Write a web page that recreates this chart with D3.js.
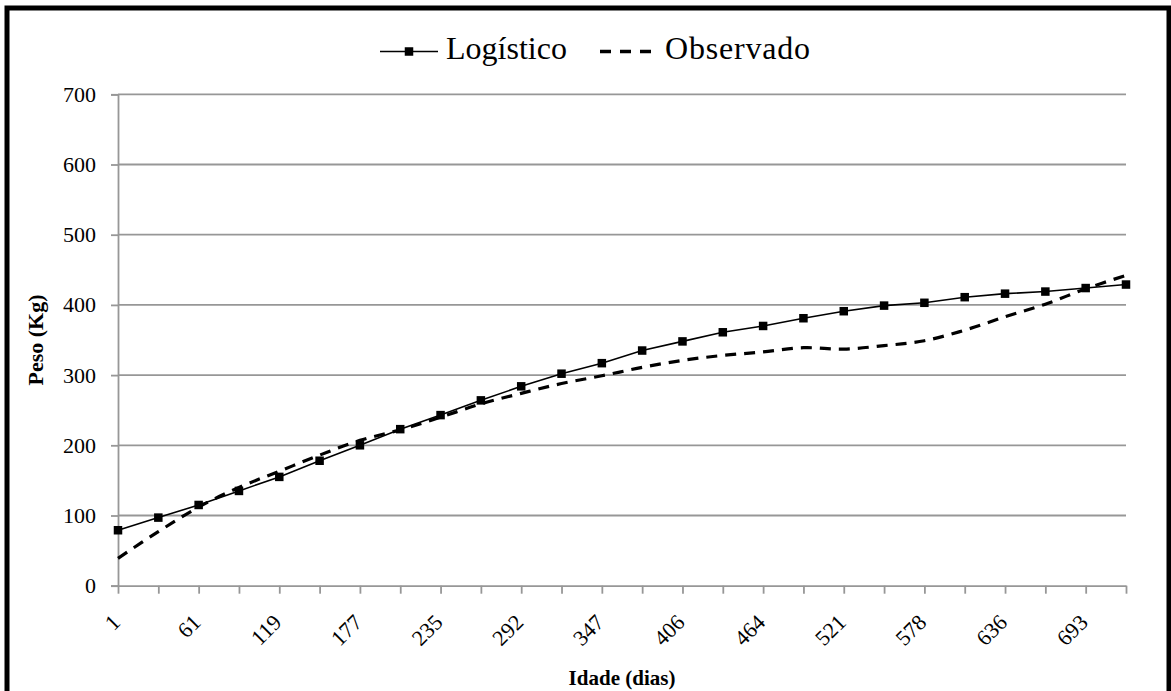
<!DOCTYPE html>
<html>
<head>
<meta charset="utf-8" />
<script src="https://cdn.jsdelivr.net/npm/d3@7/dist/d3.min.js"></script>
<style>
    body { margin: 0; background: #fff; }
    svg text { font-family: "Liberation Serif", "Times New Roman", serif; fill: #000; }
</style>
</head>
<body>
<div id="chart"></div>
<script>
    // idade (dias) - so uma em cada duas aparece no eixo
    const idade = [1, 31, 61, 90, 119, 148, 177, 206, 235, 263, 292, 320, 347,
                   377, 406, 435, 464, 492, 521, 550, 578, 607, 636, 665, 693, 722];
    const logistico = [79, 97, 115, 135, 155, 178, 200, 223, 243, 264, 284, 302, 317,
                       335, 348, 361, 370, 381, 391, 399, 403, 411, 416, 419, 424, 429];
    const observado = [39, 77, 112, 140, 163, 186, 207, 222, 240, 259, 274, 288, 299,
                       311, 321, 328, 333, 339, 337, 342, 349, 364, 383, 401, 423, 442];
    const yTicks = [0, 100, 200, 300, 400, 500, 600, 700];

    const width = 1171, height = 691;
    const mLeft = 118, mRight = 1126, mTop = 94.3, mBottom = 585.7;

    const svg = d3.select("#chart").append("svg")
                  .attr("width", width)
                  .attr("height", height);

    // cadre noir
    svg.append("rect")
       .attr("x", 7).attr("y", 8)
       .attr("width", 1162).attr("height", 700)
       .attr("fill", "none")
       .attr("stroke", "#000")
       .attr("stroke-width", 5);

    const x = d3.scalePoint().domain(idade).range([mLeft, mRight]);
    const y = d3.scaleLinear().domain([0, 700]).range([mBottom, mTop]);

    // grelha horizontal
    svg.append("g")
       .selectAll("line")
       .data(yTicks.filter(d => d > 0))
       .enter().append("line")
       .attr("x1", mLeft).attr("x2", mRight)
       .attr("y1", d => y(d)).attr("y2", d => y(d))
       .attr("stroke", "#979797")
       .attr("stroke-width", 1.8);

    // eixo y
    const yAxis = svg.append("g")
        .attr("transform", "translate(" + mLeft + ",0)")
        .call(d3.axisLeft(y).tickValues(yTicks).tickSize(7).tickPadding(15));
    yAxis.select(".domain").attr("stroke", "#979797").attr("stroke-width", 1.8);
    yAxis.selectAll(".tick line").attr("stroke", "#979797").attr("stroke-width", 1.8);
    yAxis.selectAll(".tick text")
         .style("font-family", "Liberation Serif")
         .style("font-size", "22px");

    // eixo x
    const xAxis = svg.append("g")
        .attr("transform", "translate(0," + mBottom + ")")
        .call(d3.axisBottom(x).tickSize(8).tickSizeOuter(0)
                .tickFormat((d, i) => i % 2 === 0 ? d : ""));
    xAxis.select(".domain").attr("stroke", "#979797").attr("stroke-width", 1.8);
    xAxis.selectAll(".tick line").attr("stroke", "#979797").attr("stroke-width", 1.8);
    xAxis.selectAll(".tick text")
         .style("font-family", "Liberation Serif")
         .style("font-size", "22px")
         .attr("text-anchor", "end")
         .attr("y", 0).attr("dy", 0)
         .attr("transform", "translate(3,38) rotate(-45)");

    // titulos dos eixos
    svg.append("text")
       .attr("x", 622).attr("y", 685)
       .attr("text-anchor", "middle")
       .style("font-size", "21px")
       .style("font-weight", "bold")
       .text("Idade (dias)");

    svg.append("text")
       .attr("transform", "translate(43,340) rotate(-90)")
       .attr("text-anchor", "middle")
       .style("font-size", "22px")
       .style("font-weight", "bold")
       .text("Peso (Kg)");

    // series
    const lineLog = d3.line()
        .x((d, i) => x(idade[i]))
        .y(d => y(d));
    const lineObs = d3.line()
        .x((d, i) => x(idade[i]))
        .y(d => y(d))
        .curve(d3.curveCatmullRom.alpha(0.5));

    svg.append("path")
       .datum(logistico)
       .attr("d", lineLog)
       .attr("fill", "none")
       .attr("stroke", "#000")
       .attr("stroke-width", 1.6);

    svg.append("g")
       .selectAll("rect")
       .data(logistico)
       .enter().append("rect")
       .attr("x", (d, i) => x(idade[i]) - 4.25)
       .attr("y", d => y(d) - 4.25)
       .attr("width", 8.5).attr("height", 8.5)
       .attr("fill", "#000");

    svg.append("path")
       .datum(observado)
       .attr("d", lineObs)
       .attr("fill", "none")
       .attr("stroke", "#000")
       .attr("stroke-width", 3.2)
       .attr("stroke-dasharray", "11,8");

    // legenda
    const leg = svg.append("g");
    leg.append("line")
       .attr("x1", 380).attr("x2", 438).attr("y1", 51.5).attr("y2", 51.5)
       .attr("stroke", "#000").attr("stroke-width", 1.6);
    leg.append("rect")
       .attr("x", 404.75).attr("y", 47.25).attr("width", 8.5).attr("height", 8.5)
       .attr("fill", "#000");
    leg.append("text")
       .attr("x", 446).attr("y", 59)
       .style("font-size", "32px")
       .text("Logístico");

    leg.append("line")
       .attr("x1", 600).attr("x2", 652).attr("y1", 51.5).attr("y2", 51.5)
       .attr("stroke", "#000").attr("stroke-width", 3.4)
       .attr("stroke-dasharray", "11,9");
    leg.append("text")
       .attr("x", 665).attr("y", 59)
       .style("font-size", "32px")
       .style("letter-spacing", "0.8px")
       .text("Observado");
</script>
</body>
</html>
